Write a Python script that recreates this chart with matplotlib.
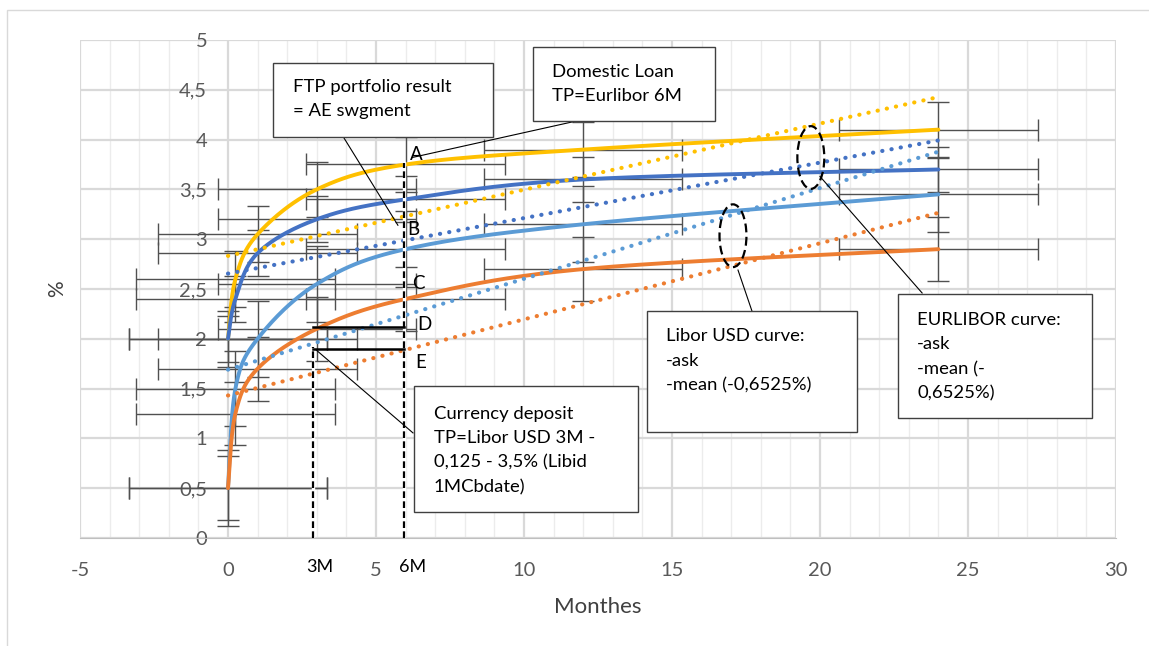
import numpy as np
import matplotlib
matplotlib.use("Agg")
import matplotlib.pyplot as plt
from matplotlib.patches import Ellipse, Rectangle
from matplotlib.ticker import MultipleLocator, FuncFormatter

plt.rcParams['font.family'] = ['Lato', 'DejaVu Sans']
plt.rcParams['axes.unicode_minus'] = False

# data (months, %)
months = [0, 0.25, 1, 3, 6, 12, 24]
eur_ask = [2.0, 2.6, 3.05, 3.5, 3.75, 3.9, 4.1]
eur_mean = [2.0, 2.4, 2.86, 3.2, 3.4, 3.6, 3.7]
usd_ask = [0.5, 1.5, 2.0, 2.55, 2.9, 3.15, 3.45]
usd_mean = [0.5, 1.25, 1.7, 2.1, 2.4, 2.7, 2.9]
y_err = [0.28, 0.23, 0.38, 0.32]
x_err = 3.35

series = [eur_ask, eur_mean, usd_ask, usd_mean]
colors = ['#FFC000', '#4472C4', '#5B9BD5', '#ED7D31']


def smooth(xs, ys, n=40):
    # excel style smoothed line (bezier through the points)
    pts = np.column_stack([xs, ys]).astype(float)
    out = []
    t = np.linspace(0, 1, n)[:, None]
    for i in range(len(pts) - 1):
        p0 = pts[max(i - 1, 0)]
        p1 = pts[i]
        p2 = pts[i + 1]
        p3 = pts[min(i + 2, len(pts) - 1)]
        c1 = p1 + (p2 - p0) / 6
        c2 = p2 - (p3 - p1) / 6
        seg = (1 - t)**3 * p1 + 3 * (1 - t)**2 * t * c1 + 3 * (1 - t) * t**2 * c2 + t**3 * p2
        out.append(seg)
    out = np.vstack(out)
    return out[:, 0], out[:, 1]


fig = plt.figure(figsize=(11.49, 6.46), dpi=100)
ax = fig.add_axes([80 / 1149, 108 / 646, 1036 / 1149, 498 / 646])

# chart area border
fig.patches.append(Rectangle((7 / 1149, -0.1), 1.2, 1.1 - 10 / 646, transform=fig.transFigure,
                             fill=False, edgecolor='#d9d9d9', lw=1))

for ys, c, ey in zip(series, colors, y_err):
    ax.errorbar(months, ys, xerr=x_err, yerr=ey, fmt='none', ecolor='#505050',
                elinewidth=1, capsize=8, capthick=1, zorder=2)
for ys, c in zip(series, colors):
    sx, sy = smooth(months, ys)
    ax.plot(sx, sy, color=c, lw=2.8, zorder=3, solid_capstyle='round')
for ys, c in zip(series, colors):
    k, b = np.polyfit(months, ys, 1)
    xx = np.array([months[0], months[-1]])
    ax.plot(xx, k * xx + b, color=c, lw=3.0, ls=(0, (0.05, 2.2)), dash_capstyle='round', zorder=4)

ax.set_xlim(-5, 30)
ax.set_ylim(0, 5)
ax.xaxis.set_major_locator(MultipleLocator(5))
ax.xaxis.set_minor_locator(MultipleLocator(1))
ax.yaxis.set_major_locator(MultipleLocator(0.5))
ax.yaxis.set_major_formatter(FuncFormatter(lambda v, p: ('%g' % v).replace('.', ',')))
ax.grid(which='major', axis='both', color='#d9d9d9', lw=1.6, zorder=0)
ax.grid(which='minor', axis='x', color='#ececec', lw=1.0, zorder=0)
ax.set_axisbelow(True)
for s in ['top', 'right']:
    ax.spines[s].set_visible(False)
ax.spines['left'].set_position(('data', 0))
ax.spines['left'].set_visible(False)
ax.spines['bottom'].set_color('#bfbfbf')
ax.tick_params(axis='both', which='both', length=0, labelsize=14.5, labelcolor='#595959')
ax.tick_params(axis='x', pad=17)
ax.tick_params(axis='y', pad=15)
ax.set_xlabel('Monthes', fontsize=16, color='#404040', labelpad=13)
ax.set_ylabel('%', fontsize=15, color='#404040')
ax.yaxis.set_label_coords(-0.012, 0.5)

# marker lines for 3M / 6M
ax.plot([2.87, 2.87], [0, 1.92], color='white', lw=2.4, zorder=5)
ax.plot([2.87, 2.87], [0, 1.92], color='black', lw=1.6, ls=(0, (3, 1.5)), zorder=6)
ax.plot([5.95, 5.95], [0, 3.77], color='white', lw=2.4, zorder=5)
ax.plot([5.95, 5.95], [0, 3.77], color='black', lw=1.6, ls=(0, (3, 1.5)), zorder=6)
ax.plot([2.87, 5.95], [2.12, 2.12], color='black', lw=1.8, zorder=6)
ax.plot([2.87, 5.95], [1.9, 1.9], color='black', lw=1.8, zorder=6)
for lab, x, y in [('A', 6.35, 3.85), ('B', 6.25, 3.10), ('C', 6.42, 2.56), ('D', 6.62, 2.14), ('E', 6.52, 1.76)]:
    ax.text(x, y, lab, fontsize=13.5, ha='center', va='center', zorder=7)
ax.text(3.1, -0.29, '3M', fontsize=13, ha='center', va='center', clip_on=False)
ax.text(6.25, -0.29, '6M', fontsize=13, ha='center', va='center', clip_on=False)

# ellipses
for cx, cy in [(17.06, 3.035), (19.69, 3.82)]:
    ax.add_patch(Ellipse((cx, cy), 0.91, 0.63, fill=False, edgecolor='black', lw=1.6,
                         ls=(0, (4, 2)), zorder=7))

# leader lines
for (x0, y0), (x1, y1) in [((3.89, 4.03), (5.74, 3.14)),
                           ((11.82, 4.19), (6.22, 3.82)),
                           ((2.97, 1.89), (6.25, 1.055)),
                           ((17.70, 2.28), (17.23, 2.69)),
                           ((23.45, 2.46), (20.0, 3.63))]:
    ax.plot([x0, x1], [y0, y1], color='black', lw=0.8, zorder=7)

# callout boxes
boxes = [
    ((1.52, 4.03), 7.43, 0.74, (2.20, 4.41), 'FTP portfolio result\n= AE swgment'),
    ((10.30, 4.19), 6.15, 0.74, (10.95, 4.56), 'Domestic Loan\nTP=Eurlibor 6M'),
    ((6.28, 0.26), 7.57, 1.27, (6.96, 0.877), 'Currency deposit\nTP=Libor USD 3M -\n0,125 - 3,5% (Libid\n1MCbdate)'),
    ((14.16, 1.065), 7.09, 1.215, (14.80, 1.78), 'Libor USD curve:\n-ask\n-mean (-0,6525%)'),
    ((22.64, 1.206), 6.55, 1.244, (23.28, 1.82), 'EURLIBOR curve:\n-ask\n-mean (-\n0,6525%)'),
]
for (bx, by), bw, bh, (tx, ty), txt in boxes:
    ax.add_patch(Rectangle((bx, by), bw, bh, facecolor='white', edgecolor='#404040', lw=1, zorder=8))
    ax.text(tx, ty, txt, fontsize=13.3, ha='left', va='center', linespacing=1.65, zorder=9)

fig.savefig('out.png', dpi=100)
